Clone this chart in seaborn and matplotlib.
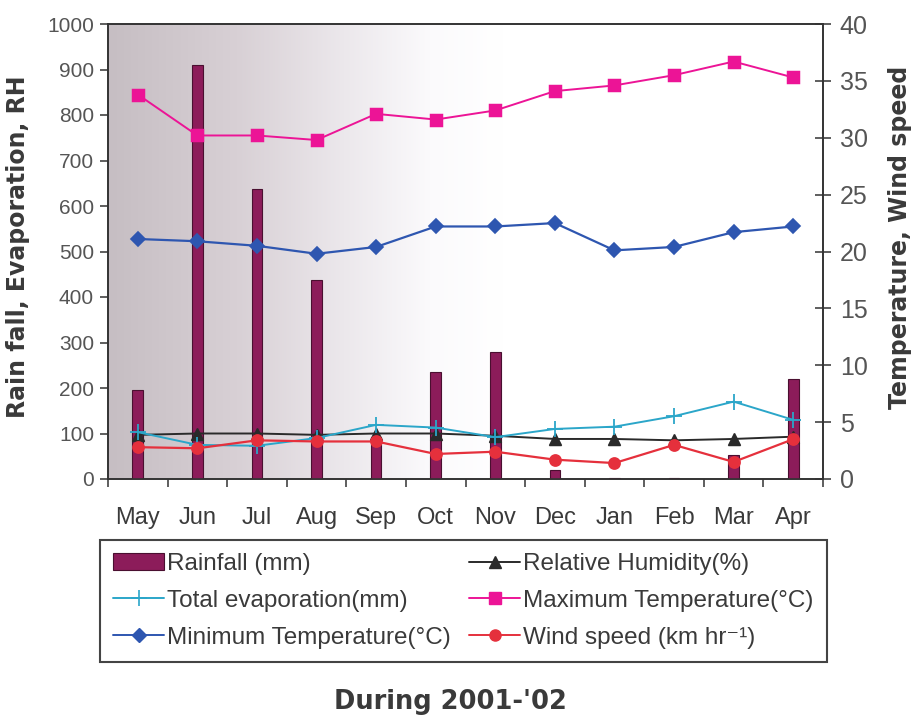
import numpy as np
import pandas as pd
import matplotlib
matplotlib.use("Agg")
import matplotlib.pyplot as plt
import seaborn as sns
from matplotlib.colors import LinearSegmentedColormap
from matplotlib.lines import Line2D
from matplotlib.patches import Patch
from matplotlib.ticker import FixedLocator

# -----------------------------------------------
# Data
# -----------------------------------------------
months = ["May", "Jun", "Jul", "Aug", "Sep", "Oct", "Nov", "Dec", "Jan", "Feb", "Mar", "Apr"]
rainfall = [196, 910, 637, 437, 92, 235, 280, 20, 2, 3, 52, 220]
rel_humidity = [97, 100, 100, 97, 100, 100, 95, 88, 88, 85, 88, 93]
evaporation = [103, 75, 73, 90, 119, 113, 92, 110, 115, 138, 170, 130]
max_temp = [33.8, 30.2, 30.2, 29.8, 32.1, 31.6, 32.4, 34.1, 34.6, 35.5, 36.7, 35.3]
min_temp = [21.1, 20.9, 20.5, 19.8, 20.4, 22.2, 22.2, 22.5, 20.1, 20.4, 21.7, 22.2]
wind_speed = [2.8, 2.7, 3.4, 3.3, 3.3, 2.2, 2.4, 1.7, 1.4, 3.0, 1.5, 3.5]

df = pd.DataFrame({
    "Month": months,
    "Rainfall": rainfall,
    "RH": rel_humidity,
    "Evap": evaporation,
    "MaxT": max_temp,
    "MinT": min_temp,
    "Wind": wind_speed,
})

# colours
c_rain = "#8c1c5a"
c_rh = "#2a2a2a"
c_evap = "#2ba6c9"
c_max = "#ec1496"
c_min = "#2e56b0"
c_wind = "#e5303c"
c_text = "#3a3a3a"

sns.set_style("white")
plt.rcParams["font.family"] = ["Liberation Sans", "DejaVu Sans"]

fig = plt.figure(figsize=(9.17, 7.27), dpi=100)
ax = fig.add_axes([108 / 917, 1 - 479 / 727, 715 / 917, 455 / 727])
ax2 = ax.twinx()

# -----------------------------------------------
# Left axis: rainfall bars, RH, evaporation
# -----------------------------------------------
sns.barplot(data=df, x="Month", y="Rainfall", ax=ax, color=c_rain, width=0.18,
            edgecolor="#4a0f30", linewidth=0.8, saturation=1, zorder=3)
sns.pointplot(data=df, x="Month", y="RH", ax=ax, color=c_rh, marker="^",
              markersize=8, linewidth=1.4, errorbar=None, zorder=4)
sns.pointplot(data=df, x="Month", y="Evap", ax=ax, color=c_evap, marker="+",
              markersize=12, markeredgewidth=1.3, linewidth=1.4, errorbar=None, zorder=4)

# -----------------------------------------------
# Right axis: temperatures and wind
# -----------------------------------------------
sns.pointplot(data=df, x="Month", y="MaxT", ax=ax2, color=c_max, marker="s",
              markersize=9, linewidth=1.4, errorbar=None)
sns.pointplot(data=df, x="Month", y="MinT", ax=ax2, color=c_min, marker="D",
              markersize=7.5, linewidth=1.6, errorbar=None)
sns.pointplot(data=df, x="Month", y="Wind", ax=ax2, color=c_wind, marker="o",
              markersize=8, linewidth=1.6, errorbar=None)

ax.set_xlim(-0.5, 11.5)
ax.set_ylim(0, 1000)
ax2.set_ylim(0, 40)
ax.set_yticks(np.arange(0, 1001, 100))
ax2.set_yticks(np.arange(0, 41, 5))

# grey-to-white shaded background on the left part of the plot
grad_cmap = LinearSegmentedColormap.from_list(
    "bg", [(0, "#c6bec3"), (0.18, "#d8d0d5"), (0.33, "#ece8ec"), (0.45, "#fbfafc"), (0.55, "white"), (1, "white")])
ax.imshow(np.linspace(0, 1, 256).reshape(1, -1), extent=[-0.5, 11.5, 0, 1000],
          aspect="auto", cmap=grad_cmap, zorder=0, interpolation="bilinear")
ax.set_xlim(-0.5, 11.5)
ax.set_ylim(0, 1000)

# spines and ticks
for a in (ax, ax2):
    for s in a.spines.values():
        s.set_visible(True)
        s.set_color("#333333")
        s.set_linewidth(1.2)

ax.xaxis.set_minor_locator(FixedLocator(np.arange(-0.5, 12, 1)))
ax.tick_params(axis="x", which="major", length=0, pad=20, labelsize=17, labelcolor=c_text)
ax.tick_params(axis="x", which="minor", bottom=True, length=6, width=1.1, color="#333333", direction="out")
ax.tick_params(axis="y", left=True, length=6, width=1.1, color="#333333", direction="out",
               labelsize=15, labelcolor="#555555", pad=4)
ax2.tick_params(axis="y", right=True, length=12, width=1.1, color="#333333", direction="inout",
                labelsize=18, labelcolor="#555555", pad=6)

ax.set_xlabel("")
ax.set_ylabel("Rain fall, Evaporation, RH", fontsize=17, fontweight="bold",
              family="DejaVu Sans", color=c_text)
ax.yaxis.set_label_coords(-0.109, 0.51)
ax2.set_ylabel("Temperature, Wind speed", fontsize=17, fontweight="bold",
               family="DejaVu Sans", color=c_text, rotation=90)
ax2.yaxis.set_label_coords(1.091, 0.53)

# -----------------------------------------------
# Legend
# -----------------------------------------------
handles = [
    Patch(facecolor=c_rain, edgecolor="#4a0f30", linewidth=0.8),
    Line2D([], [], color=c_evap, marker="+", markersize=11, markeredgewidth=1.2, linewidth=1.4),
    Line2D([], [], color=c_min, marker="D", markersize=7, linewidth=1.4),
    Line2D([], [], color=c_rh, marker="^", markersize=8, linewidth=1.4),
    Line2D([], [], color=c_max, marker="s", markersize=8, linewidth=1.4),
    Line2D([], [], color=c_wind, marker="o", markersize=8, linewidth=1.4),
]
labels = [
    "Rainfall (mm)",
    "Total evaporation(mm)",
    "Minimum Temperature(°C)",
    "Relative Humidity(%)",
    "Maximum Temperature(°C)",
    "Wind speed (km hr\u207b\u00b9)",
]
leg = fig.legend(handles, labels, loc="upper left", ncol=2,
                 bbox_to_anchor=(100 / 917, 1 - 540 / 727),
                 fontsize=17.5, frameon=True, fancybox=False, framealpha=1,
                 edgecolor="#444444", handlelength=2.1, handletextpad=0.12,
                 labelspacing=0.6, borderpad=0.55, columnspacing=0.75,
                 borderaxespad=0)
leg.get_frame().set_linewidth(1.5)
for t in leg.get_texts():
    t.set_color(c_text)

fig.text(0.491, 1 - 702 / 727, "During 2001-'02", ha="center", va="center",
         fontsize=18.5, fontweight="bold", family="DejaVu Sans", color=c_text)

fig.savefig("out.png", dpi=100)
